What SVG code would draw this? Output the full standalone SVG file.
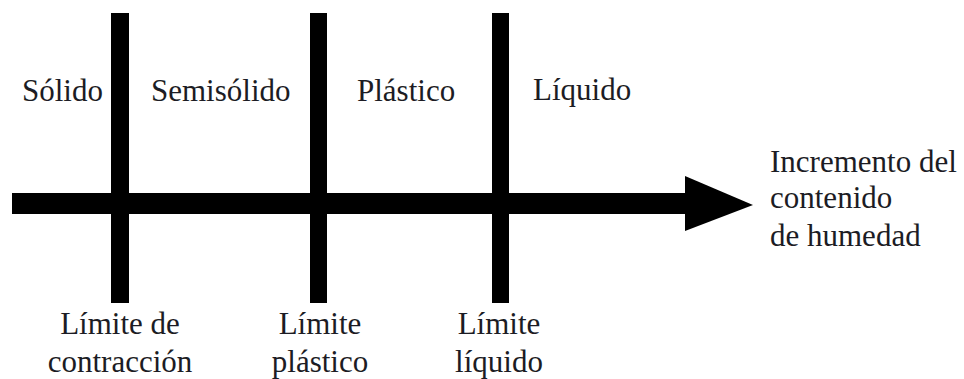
<svg xmlns="http://www.w3.org/2000/svg" width="964" height="379" viewBox="0 0 964 379">
<style>
.t{font-family:"Liberation Serif","Times New Roman",serif;font-size:31px;fill:#1c1c24}
.m{text-anchor:middle}
.bar{fill:#000}
</style>
<rect width="964" height="379" fill="#fff"/>
<g id="connectors">
<rect class="bar" x="12" y="193" width="674" height="21"/>
<polygon class="bar" points="685,176 753,205 685,231"/>
</g>
<g id="limite-contraccion">
<rect class="bar" x="111" y="13" width="18" height="290"/>
<text class="t m" x="120" y="334">Límite de</text>
<text class="t m" x="120" y="372">contracción</text>
</g>
<g id="limite-plastico">
<rect class="bar" x="310" y="13" width="17" height="290"/>
<text class="t m" x="320" y="334">Límite</text>
<text class="t m" x="320" y="372">plástico</text>
</g>
<g id="limite-liquido">
<rect class="bar" x="492" y="13" width="17" height="290"/>
<text class="t m" x="499" y="334">Límite</text>
<text class="t m" x="499" y="372">líquido</text>
</g>
<g id="solido"><text class="t" x="22" y="101">Sólido</text></g>
<g id="semisolido"><text class="t" x="151" y="101">Semisólido</text></g>
<g id="plastico"><text class="t" x="357" y="101">Plástico</text></g>
<g id="liquido"><text class="t" x="533" y="100">Líquido</text></g>
<g id="incremento">
<text class="t" x="770" y="172">Incremento del</text>
<text class="t" x="770" y="208">contenido</text>
<text class="t" x="770" y="246">de humedad</text>
</g>
</svg>
